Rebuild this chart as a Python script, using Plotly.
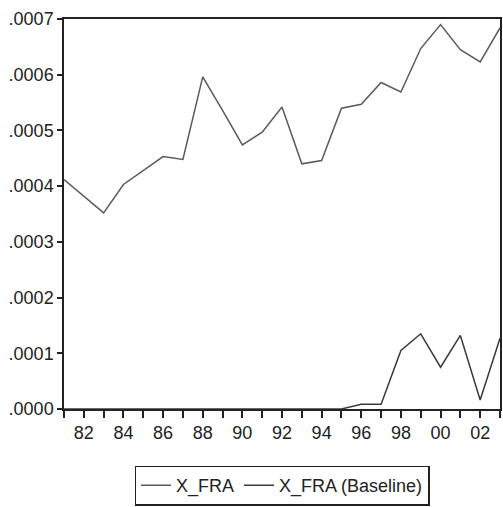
import plotly.graph_objects as go

years = list(range(1981, 2004))
x_fra = [0.000412, 0.000382, 0.000352, 0.000403, 0.000428, 0.000453, 0.000448,
         0.000596, 0.000536, 0.000474, 0.000497, 0.000542, 0.000440, 0.000446,
         0.000540, 0.000547, 0.000586, 0.000569, 0.000647, 0.000690, 0.000645,
         0.000623, 0.000684]
x_fra_base = [0, 0, 0, 0, 0, 0, 0, 0, 0, 0, 0, 0, 0, 0,
              0.0, 0.0000084, 0.0000084, 0.000105, 0.000135, 0.000075,
              0.000132, 0.000016, 0.000127]
y_tick_vals = [0, 0.0001, 0.0002, 0.0003, 0.0004, 0.0005, 0.0006, 0.0007]
y_tick_text = [".0000", ".0001", ".0002", ".0003", ".0004", ".0005", ".0006", ".0007"]
x_tick_text = [str(y)[2:] if y % 2 == 0 else "" for y in years]

fig = go.Figure()
fig.add_trace(go.Scatter(x=years, y=x_fra, mode="lines", name="X_FRA",
                         line=dict(color="#5a5a5a", width=1.5)))
fig.add_trace(go.Scatter(x=years, y=x_fra_base, mode="lines", name="X_FRA (Baseline)",
                         line=dict(color="#3a3a3a", width=1.5)))

fig.update_layout(
    width=503, height=507,
    margin=dict(l=64, r=1, t=19, b=95),
    paper_bgcolor="white", plot_bgcolor="white",
    font=dict(family="Liberation Sans, Arial, sans-serif", size=18, color="#222"),
    showlegend=True,
    legend=dict(orientation="h", x=0.5, xanchor="center", y=-0.145, yanchor="top",
                bordercolor="#222", borderwidth=1.5, font=dict(size=18),
                itemwidth=30, tracegroupgap=0),
    xaxis=dict(range=[1981, 2003], tickvals=years, ticktext=x_tick_text,
               ticks="outside", ticklen=7, tickwidth=1.5, tickcolor="#222",
               showgrid=False, zeroline=False, showline=True, linecolor="#222",
               linewidth=1.5, mirror=True, fixedrange=True),
    yaxis=dict(range=[0, 0.0007], tickvals=y_tick_vals, ticktext=y_tick_text,
               ticks="outside", ticklen=5, tickwidth=1.5, tickcolor="#222",
               showgrid=False, zeroline=False, showline=True, linecolor="#222",
               linewidth=1.5, mirror=True, fixedrange=True),
)

fig.write_html("out.html", config={"displayModeBar": False},
               post_script="document.body.style.margin='0';")
